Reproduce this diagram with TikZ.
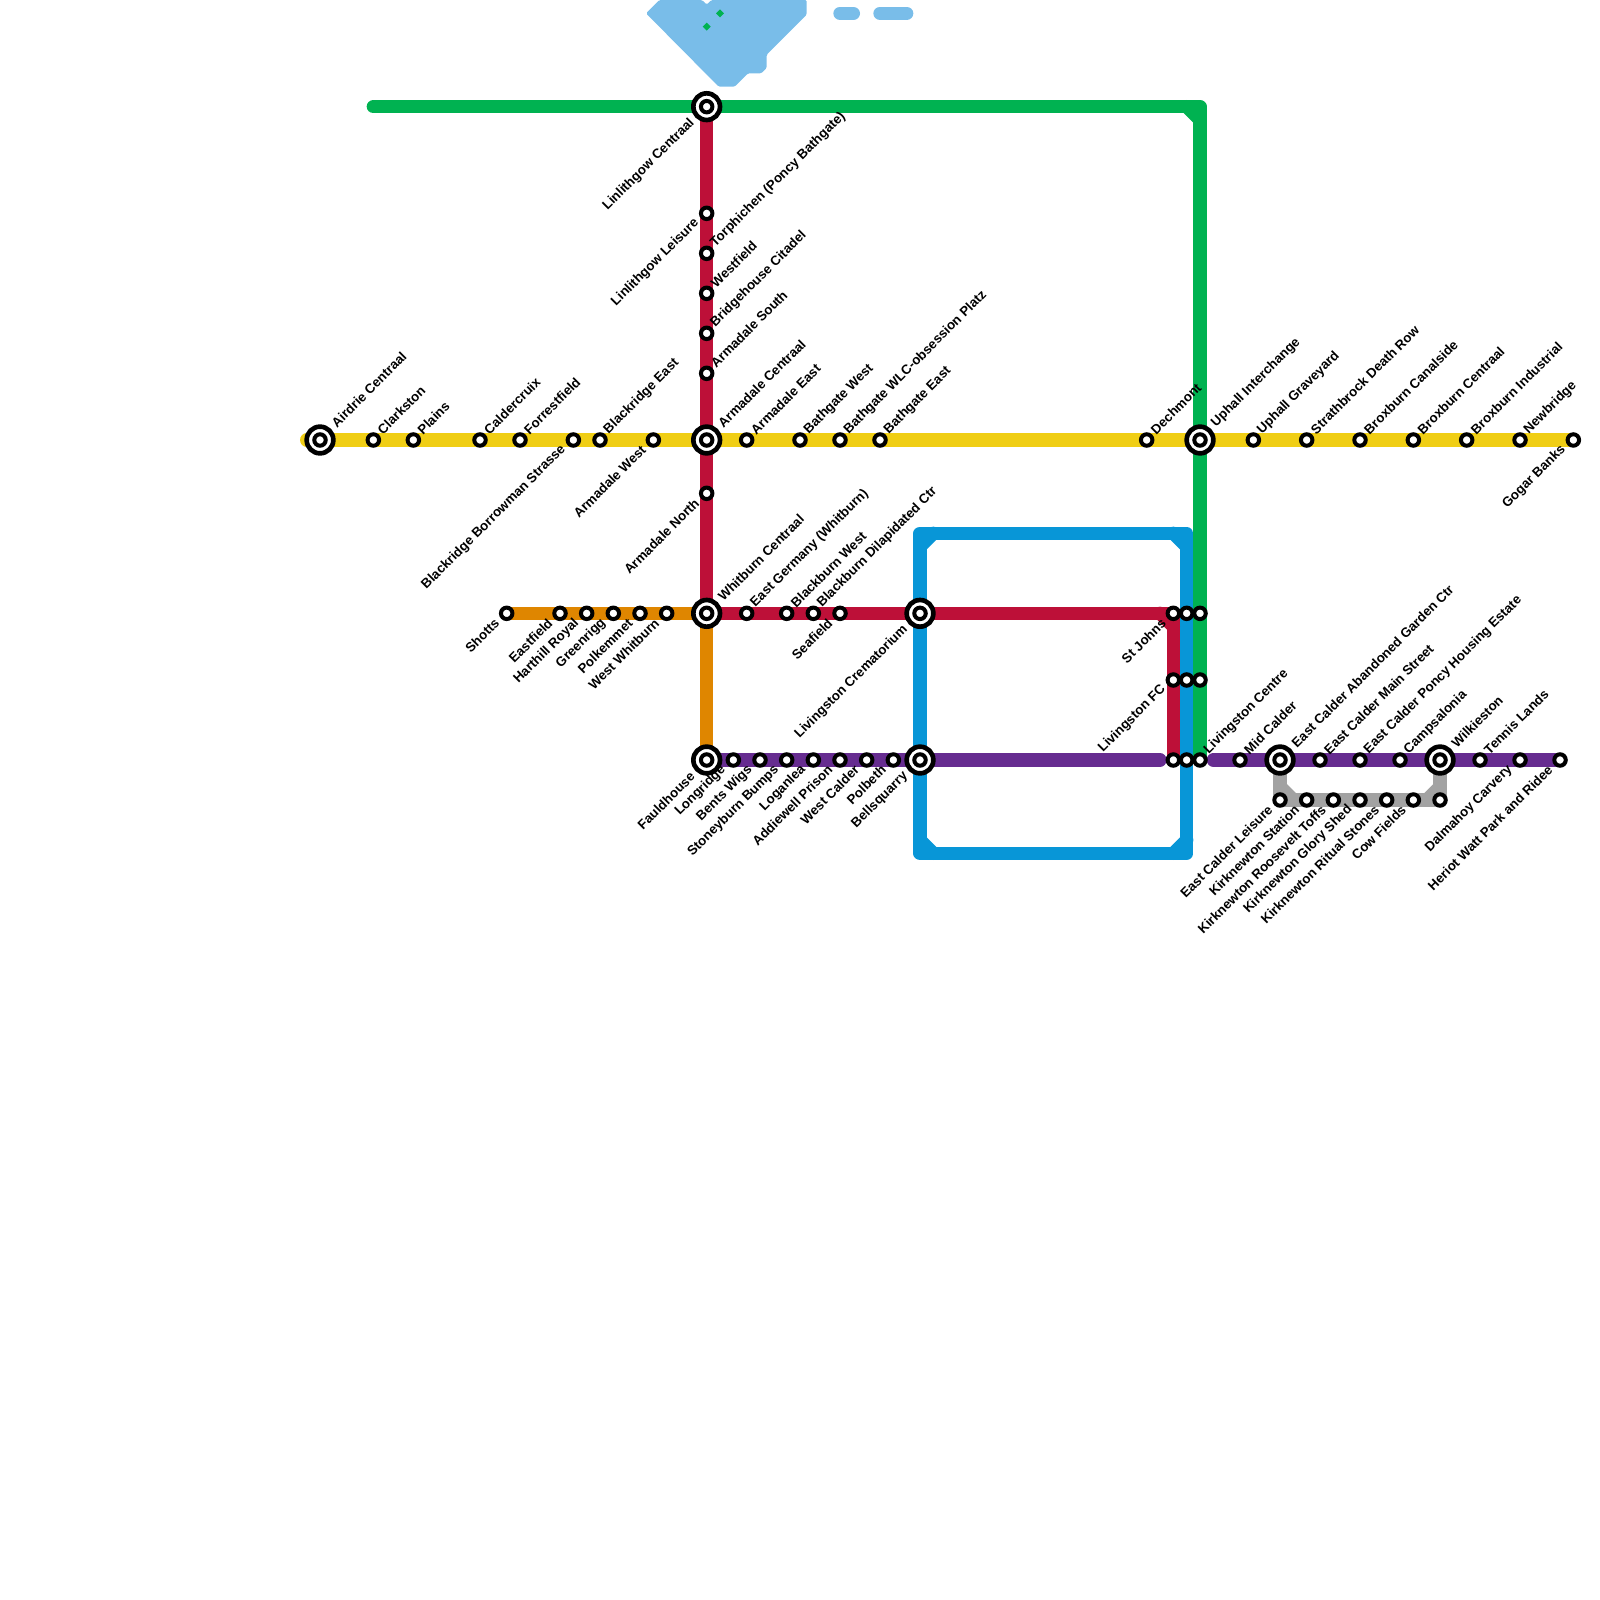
\documentclass[tikz,border=0pt]{standalone}
\usepackage{fontspec}
\setmainfont{Liberation Sans}
\usetikzlibrary{backgrounds}

\definecolor{lineyellow}{HTML}{F0CE15}
\definecolor{linered}{HTML}{BD1038}
\definecolor{lineorange}{HTML}{DF8600}
\definecolor{linegreen}{HTML}{00B251}
\definecolor{lineblue}{HTML}{0896D7}
\definecolor{linepurple}{HTML}{662C90}
\definecolor{linegrey}{HTML}{A2A2A2}
\definecolor{linelight}{HTML}{79BDE9}

\tikzset{
  metro/.style={line width=.2cm, line cap=round, line join=round},
  station/.style={circle, draw=black, fill=white, line width=.06cm, minimum size=.172cm, inner sep=0pt},
  hub/.style={circle, draw=black, fill=white, line width=.07cm, minimum size=.4cm, inner sep=0pt},
  namefont/.style={font=\fontsize{5.667pt}{7pt}\selectfont\bfseries, inner sep=0pt},
  stup/.style={namefont, shift={(.45,-.6)}, rotate=45, anchor=west},
  stdown/.style={namefont, shift={(-.72,.55)}, rotate=45, anchor=east},
  hubup/.style={namefont, shift={(1,-1.1)}, rotate=45, anchor=west},
  hubdown/.style={namefont, shift={(-1.05,1.05)}, rotate=45, anchor=east}
}

\begin{document}
\begin{tikzpicture}[x=.2cm, y=-.2cm]
        \useasboundingbox (0,0) rectangle (120,120);

        % Yellow line
        \node[hub] (airdrie) at (24,33) {};
        \node[station] (airdrieinner) at (airdrie) {};
        \node[hubup] (airdrielbl) at (airdrie) {Airdrie Centraal};
        \node[station] (clarkston) at (28,33) {};
        \node[stup] (clarkstonlbl) at (clarkston) {Clarkston};
        \node[station] (plains) at (31,33) {};
        \node[stup] (plainslbl) at (plains) {Plains};
        \node[station] (caldercruix) at (36,33) {};
        \node[stup] (caldercruixlbl) at (caldercruix) {Caldercruix};
        \node[station] (forrestfield) at (39,33) {};
        \node[stup] (forrestfieldlbl) at (forrestfield) {Forrestfield};
        \node[station] (borrowman) at (43,33) {};
        \node[stdown] (borrowmanlbl) at (borrowman) {Blackridge Borrowman Strasse};
        \node[station] (blackridge) at (45,33) {};
        \node[stup] (blackridgelbl) at (blackridge) {Blackridge East};
        \node[station] (armwest) at (49,33) {};
        \node[stdown] (armwestlbl) at (armwest) {Armadale West};
        \node[hub] (armcentral) at (53,33) {};
        \node[station] (armcentralinner) at (armcentral) {};
        \node[hubup] (armcentrallbl) at (armcentral) {Armadale Centraal};
        \node[station] (armeast) at (56,33) {};
        \node[stup] (armeastlbl) at (armeast) {Armadale East};
        \node[station] (bathwest) at (60,33) {};
        \node[stup] (bathwestlbl) at (bathwest) {Bathgate West};
        \node[station] (bathwlc) at (63,33) {};
        \node[stup] (bathwlclbl) at (bathwlc) {Bathgate WLC-obsession Platz};
        \node[station] (batheast) at (66,33) {};
        \node[stup] (batheastlbl) at (batheast) {Bathgate East};
        \node[station] (dechmont) at (86,33) {};
        \node[stup] (dechmontlbl) at (dechmont) {Dechmont};
        \node[hub] (uphall) at (90,33) {};
        \node[station] (uphallinner) at (uphall) {};
        \node[hubup] (uphalllbl) at (uphall) {Uphall Interchange};
        \node[station] (graveyard) at (94,33) {};
        \node[stup] (graveyardlbl) at (graveyard) {Uphall Graveyard};
        \node[station] (strathbrock) at (98,33) {};
        \node[stup] (strathbrocklbl) at (strathbrock) {Strathbrock Death Row};
        \node[station] (canalside) at (102,33) {};
        \node[stup] (canalsidelbl) at (canalside) {Broxburn Canalside};
        \node[station] (broxcentral) at (106,33) {};
        \node[stup] (broxcentrallbl) at (broxcentral) {Broxburn Centraal};
        \node[station] (broxind) at (110,33) {};
        \node[stup] (broxindlbl) at (broxind) {Broxburn Industrial};
        \node[station] (newbridge) at (114,33) {};
        \node[stup] (newbridgelbl) at (newbridge) {Newbridge};
        \node[station] (gogar) at (118,33) {};
        \node[stdown] (gogarlbl) at (gogar) {Gogar Banks};

        % Red line
        \node[hub] (linlithgow) at (53,8) {};
        \node[station] (linlithgowinner) at (linlithgow) {};
        \node[hubdown] (linlithgowlbl) at (linlithgow) {Linlithgow Centraal};
        \node[station] (leisure) at (53,16) {};
        \node[stdown] (leisurelbl) at (leisure) {Linlithgow Leisure};
        \node[station] (torphichen) at (53,19) {};
        \node[stup] (torphichenlbl) at (torphichen) {Torphichen (Poncy Bathgate)};
        \node[station] (westfield) at (53,22) {};
        \node[stup] (westfieldlbl) at (westfield) {Westfield};
        \node[station] (bridgehouse) at (53,25) {};
        \node[stup] (bridgehouselbl) at (bridgehouse) {Bridgehouse Citadel};
        \node[station] (armsouth) at (53,28) {};
        \node[stup] (armsouthlbl) at (armsouth) {Armadale South};
        \node[station] (armnorth) at (53,37) {};
        \node[stdown] (armnorthlbl) at (armnorth) {Armadale North};
        \node[hub] (whitburn) at (53,46) {};
        \node[station] (whitburninner) at (whitburn) {};
        \node[hubup] (whitburnlbl) at (whitburn) {Whitburn Centraal};
        \node[station] (germany) at (56,46) {};
        \node[stup] (germanylbl) at (germany) {East Germany (Whitburn)};
        \node[station] (blackwest) at (59,46) {};
        \node[stup] (blackwestlbl) at (blackwest) {Blackburn West};
        \node[station] (blackdil) at (61,46) {};
        \node[stup] (blackdillbl) at (blackdil) {Blackburn Dilapidated Ctr};
        \node[station] (seafield) at (63,46) {};
        \node[stdown] (seafieldlbl) at (seafield) {Seafield};
        \node[hub] (crem) at (69,46) {};
        \node[station] (creminner) at (crem) {};
        \node[hubdown] (cremlbl) at (crem) {Livingston Crematorium};
        \node[station] (stjohns) at (88,46) {};
        \node[stdown] (stjohnslbl) at (stjohns) {St Johns};
        \node[station] (stjohnsblue) at (89,46) {};
        \node[station] (stjohnsgreen) at (90,46) {};
        \node[station] (livfc) at (88,51) {};
        \node[stdown] (livfclbl) at (livfc) {Livingston FC};
        \node[station] (livfcblue) at (89,51) {};
        \node[station] (livfcgreen) at (90,51) {};
        \node[station] (livred) at (88,57) {};
        \node[station] (livblue) at (89,57) {};
        \node[station] (livcentre) at (90,57) {};
        \node[stup] (livcentrelbl) at (livcentre) {Livingston Centre};

        % Orange line
        \node[station] (shotts) at (38,46) {};
        \node[stdown] (shottslbl) at (shotts) {Shotts};
        \node[station] (eastfield) at (42,46) {};
        \node[stdown] (eastfieldlbl) at (eastfield) {Eastfield};
        \node[station] (harthill) at (44,46) {};
        \node[stdown] (harthilllbl) at (harthill) {Harthill Royal};
        \node[station] (greenrigg) at (46,46) {};
        \node[stdown] (greenrigglbl) at (greenrigg) {Greenrigg};
        \node[station] (polkemmet) at (48,46) {};
        \node[stdown] (polkemmetlbl) at (polkemmet) {Polkemmet};
        \node[station] (westwhit) at (50,46) {};
        \node[stdown] (westwhitlbl) at (westwhit) {West Whitburn};

        % Purple line
        \node[hub] (fauldhouse) at (53,57) {};
        \node[station] (fauldhouseinner) at (fauldhouse) {};
        \node[hubdown] (fauldhouselbl) at (fauldhouse) {Fauldhouse};
        \node[station] (longridge) at (55,57) {};
        \node[stdown] (longridgelbl) at (longridge) {Longridge};
        \node[station] (bents) at (57,57) {};
        \node[stdown] (bentslbl) at (bents) {Bents Wigs};
        \node[station] (stoneyburn) at (59,57) {};
        \node[stdown] (stoneyburnlbl) at (stoneyburn) {Stoneyburn Bumps};
        \node[station] (loganlea) at (61,57) {};
        \node[stdown] (loganlealbl) at (loganlea) {Loganlea};
        \node[station] (addiewell) at (63,57) {};
        \node[stdown] (addiewelllbl) at (addiewell) {Addiewell Prison};
        \node[station] (westcalder) at (65,57) {};
        \node[stdown] (westcalderlbl) at (westcalder) {West Calder};
        \node[station] (polbeth) at (67,57) {};
        \node[stdown] (polbethlbl) at (polbeth) {Polbeth};
        \node[hub] (bellsquarry) at (69,57) {};
        \node[station] (bellsquarryinner) at (bellsquarry) {};
        \node[hubdown] (bellsquarrylbl) at (bellsquarry) {Bellsquarry};
        \node[station] (midcalder) at (93,57) {};
        \node[stup] (midcalderlbl) at (midcalder) {Mid Calder};
        \node[hub] (garden) at (96,57) {};
        \node[station] (gardeninner) at (garden) {};
        \node[hubup] (gardenlbl) at (garden) {East Calder Abandoned Garden Ctr};
        \node[station] (mainst) at (99,57) {};
        \node[stup] (mainstlbl) at (mainst) {East Calder Main Street};
        \node[station] (poncy) at (102,57) {};
        \node[stup] (poncylbl) at (poncy) {East Calder Poncy Housing Estate};
        \node[station] (camps) at (105,57) {};
        \node[stup] (campslbl) at (camps) {Campsalonia};
        \node[hub] (wilkieston) at (108,57) {};
        \node[station] (wilkiestoninner) at (wilkieston) {};
        \node[hubup] (wilkiestonlbl) at (wilkieston) {Wilkieston};
        \node[station] (tennis) at (111,57) {};
        \node[stup] (tennislbl) at (tennis) {Tennis Lands};
        \node[station] (dalmahoy) at (114,57) {};
        \node[stdown] (dalmahoylbl) at (dalmahoy) {Dalmahoy Carvery};
        \node[station] (heriot) at (117,57) {};
        \node[stdown] (heriotlbl) at (heriot) {Heriot Watt Park and Ridee};

        % Grey line
        \node[station] (ecleisure) at (96,60) {};
        \node[stdown] (ecleisurelbl) at (ecleisure) {East Calder Leisure};
        \node[station] (kirkstation) at (98,60) {};
        \node[stdown] (kirkstationlbl) at (kirkstation) {Kirknewton Station};
        \node[station] (kirktoffs) at (100,60) {};
        \node[stdown] (kirktoffslbl) at (kirktoffs) {Kirknewton Roosevelt Toffs};
        \node[station] (kirkshed) at (102,60) {};
        \node[stdown] (kirkshedlbl) at (kirkshed) {Kirknewton Glory Shed};
        \node[station] (kirkstones) at (104,60) {};
        \node[stdown] (kirkstoneslbl) at (kirkstones) {Kirknewton Ritual Stones};
        \node[station] (cowfields) at (106,60) {};
        \node[stdown] (cowfieldslbl) at (cowfields) {Cow Fields};
        \node[station] (wilkiegrey) at (108,60) {};

        % Free ends and corners
        \coordinate (yellowend) at (23,33);
        \coordinate (greenend) at (28,8);
        \coordinate (greencorner) at (90,8);
        \coordinate (redcorner) at (88,46);
        \coordinate (purpleleft) at (87,57);
        \coordinate (purpleright) at (91,57);
        \coordinate (bluetl) at (69,40);
        \coordinate (bluetr) at (89,40);
        \coordinate (bluebr) at (89,64);
        \coordinate (bluebl) at (69,64);

        \begin{scope}[on background layer]
        % Lake
        \fill[linelight, rounded corners=.6pt] (49.45,0) -- (48.45,1) -- (53.9,6.5) -- (55.1,6.5) -- (56.1,5.5) -- (57.1,5.5) -- (57.5,5.1) -- (57.5,4.1) -- (60.5,1.1) -- (60.5,0) -- (53.35,0) -- (53,.35) -- (52.65,0) -- cycle;
        \draw[metro, linelight] (63,1) -- (64,1);
        \draw[metro, linelight] (66,1) -- (68,1);
        \fill[linegreen] (53,1.7) -- (53.3,2) -- (53,2.3) -- (52.7,2) -- cycle;
        \fill[linegreen] (54,.7) -- (54.3,1) -- (54,1.3) -- (53.7,1) -- cycle;

        % Blue loop
        \draw[metro, lineblue] (bluetl) -- (bluetr) -- (bluebr) -- (bluebl) -- cycle;
        \draw[metro, lineblue] ([shift={(0,1)}]bluetl) -- ([shift={(1,0)}]bluetl);
        \draw[metro, lineblue] ([shift={(-1,0)}]bluetr) -- ([shift={(0,1)}]bluetr);
        \draw[metro, lineblue] ([shift={(0,-1)}]bluebr) -- ([shift={(-1,0)}]bluebr);
        \draw[metro, lineblue] ([shift={(1,0)}]bluebl) -- ([shift={(0,-1)}]bluebl);

        % Lines
        \draw[metro, linegreen] (greenend) -- (greencorner) -- (livcentre.center);
        \draw[metro, linegreen] ([shift={(-1,0)}]greencorner) -- ([shift={(0,1)}]greencorner);
        \draw[metro, lineyellow] (yellowend) -- (gogar.center);
        \draw[metro, lineorange] (shotts.center) -- (whitburn.center) -- (fauldhouse.center);
        \draw[metro, linered] (linlithgow.center) -- (whitburn.center) -- (redcorner) -- (livred.center);
        \draw[metro, linered] ([shift={(-1,0)}]redcorner) -- ([shift={(0,1)}]redcorner);
        \draw[metro, linegrey] (garden.center) -- (ecleisure.center) -- (wilkiegrey.center) -- (wilkieston.center);
        \draw[metro, linegrey] ([shift={(0,-1)}]ecleisure.center) -- ([shift={(1,0)}]ecleisure.center);
        \draw[metro, linegrey] ([shift={(-1,0)}]wilkiegrey.center) -- ([shift={(0,-1)}]wilkiegrey.center);
        \draw[metro, linepurple] (fauldhouse.center) -- (purpleleft);
        \draw[metro, linepurple] (purpleright) -- (heriot.center);
        \end{scope}
    \end{tikzpicture}
\end{document}
